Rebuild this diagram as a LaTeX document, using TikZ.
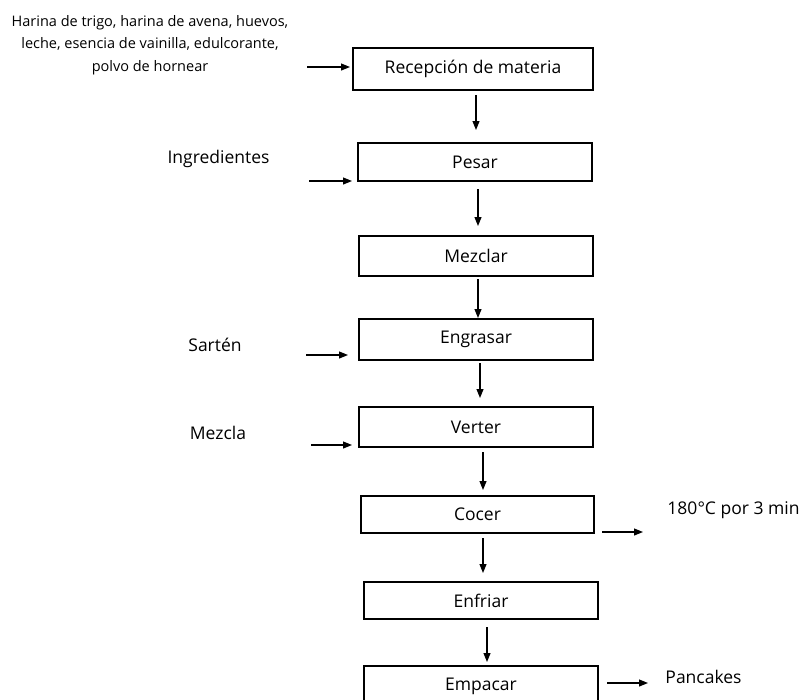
\documentclass[tikz,border=0pt]{standalone}
\usepackage{fontspec}
\setmainfont{Open Sans}
\usetikzlibrary{arrows.meta}
\begin{document}
\begin{tikzpicture}[x=1pt,y=-1pt,
  box/.style={draw, line width=1.2pt, inner sep=0pt, outer sep=0pt, minimum width=234pt,
    font=\fontsize{17.5}{20}\selectfont},
  arr/.style={-{Triangle[length=9pt,width=7pt]}, line width=1.1pt},
  lbl/.style={inner sep=0pt, font=\fontsize{17.5}{20}\selectfont}]
\useasboundingbox (0,0) rectangle (800,699);
% process boxes
\node[box, minimum width=240pt, minimum height=42pt] (b1) at (473,69) {Recepción de materia};
\node[box, minimum height=38pt] (b2) at (475,162) {Pesar};
\node[box, minimum height=40pt] (b3) at (476,256) {Mezclar};
\node[box, minimum height=41pt] (b4) at (476,339.5) {Engrasar};
\node[box, minimum height=40pt] (b5) at (476,427) {Verter};
\node[box, minimum width=233pt, minimum height=37pt] (b6) at (477.5,514.5) {Cocer};
\node[box, minimum height=37pt] (b7) at (481,600.5) {Enfriar};
\node[box, minimum height=40pt] (b8) at (481,686) {Empacar};
% labels
\node[lbl, align=center, font=\fontsize{14.5}{22.5}\selectfont] (h) at (150,45)
  {Harina de trigo, harina de avena, huevos,\\leche, esencia de vainilla, edulcorante,\\polvo de hornear};
\node[lbl] (l2) at (218.5,159) {Ingredientes};
\node[lbl] (l4) at (215,345) {Sartén};
\node[lbl] (l5) at (218,433) {Mezcla};
\node[lbl] (o6) at (733.5,510) {180°C por 3 min};
\node[lbl] (o8) at (703.5,677) {Pancakes};
% vertical flow
\draw[arr, shorten <=5pt, shorten >=13pt] ([xshift=3pt]b1.south) -- ([xshift=3pt]b1.south |- b2.north);
\draw[arr, shorten <=8pt, shorten >=10pt] ([xshift=3pt]b2.south) -- ([xshift=3pt]b2.south |- b3.north);
\draw[arr, shorten <=3pt, shorten >=1pt] ([xshift=2pt]b3.south) -- ([xshift=2pt]b3.south |- b4.north);
\draw[arr, shorten <=3pt, shorten >=9pt] ([xshift=4pt]b4.south) -- ([xshift=4pt]b4.south |- b5.north);
\draw[arr, shorten <=5pt, shorten >=6pt] ([xshift=7pt]b5.south) -- ([xshift=7pt]b5.south |- b6.north);
\draw[arr, shorten <=5pt, shorten >=9pt] ([xshift=5.5pt]b6.south) -- ([xshift=5.5pt]b6.south |- b7.north);
\draw[arr, shorten <=8pt, shorten >=4pt] ([xshift=6pt]b7.south) -- ([xshift=6pt]b7.south |- b8.north);
% inputs
\coordinate (i1) at (307,67);
\coordinate (i2) at (309,181);
\coordinate (i4) at (306,355);
\coordinate (i5) at (311,445);
\draw[arr, shorten >=3pt] (i1) -- (i1 -| b1.west);
\draw[arr, shorten >=6pt] (i2) -- (i2 -| b2.west);
\draw[arr, shorten >=11pt] (i4) -- (i4 -| b4.west);
\draw[arr, shorten >=7pt] (i5) -- (i5 -| b5.west);
% outputs
\coordinate (e6) at (643,532);
\coordinate (e8) at (648,683);
\draw[arr, shorten <=8pt] (b6.east |- e6) -- (e6);
\draw[arr, shorten <=9pt] (b8.east |- e8) -- (e8);
\end{tikzpicture}
\end{document}
